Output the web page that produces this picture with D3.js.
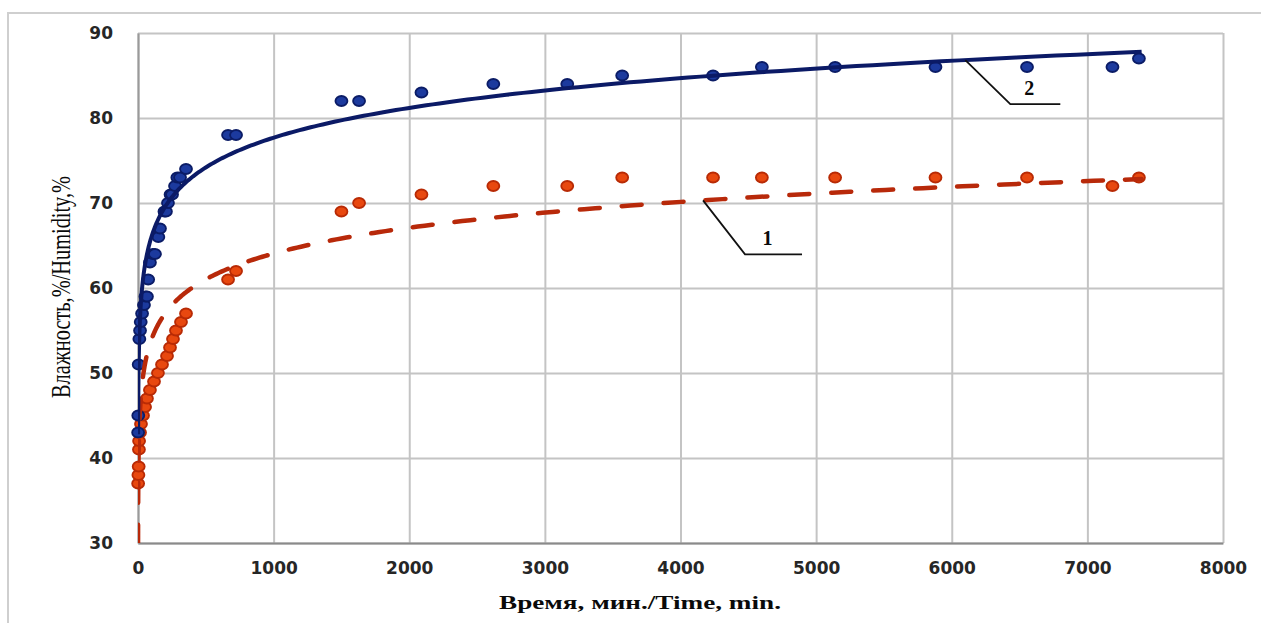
<!DOCTYPE html>
<html>
<head>
<meta charset="utf-8">
<script src="https://cdn.jsdelivr.net/npm/d3@7"></script>
<style>
  html, body { margin: 0; padding: 0; background: #fff; }
  svg { display: block; }
  .tick text { font-family: "DejaVu Sans", sans-serif; font-weight: bold; font-size: 17px; fill: #262626; }
  .title { font-family: "Liberation Serif", "Times New Roman", serif; fill: #0a0a0a; }
</style>
</head>
<body>
<svg id="chart" width="1261" height="623"></svg>
<script>
// series 1 (dashed, red): time, min / humidity, %
const time1 = [1, 3, 5, 7, 8, 15, 22, 37, 52, 66, 88, 118, 147, 177, 214, 236, 258, 280, 317, 354,
  664, 723, 1500, 1630, 2090, 2620, 3165, 3570, 4240, 4600, 5140, 5880, 6555, 7185, 7380];
const hum1 = [37, 38, 39, 41, 42, 43, 44, 45, 46, 47, 48, 49, 50, 51, 52, 53, 54, 55, 56, 57,
  61, 62, 69, 70, 71, 72, 72, 73, 73, 73, 73, 73, 73, 72, 73];

// series 2 (solid, blue)
const time2 = [1, 2, 5, 10, 15, 20, 30, 44, 55, 66, 75, 88, 110, 125, 150, 162, 195, 206, 221, 240,
  251, 273, 290, 310, 354, 664, 723, 1500, 1630, 2090, 2620, 3165, 3570, 4240, 4600, 5140, 5880,
  6555, 7185, 7380];
const hum2 = [43, 45, 51, 54, 55, 56, 57, 58, 59, 59, 61, 63, 64, 64, 66, 67, 69, 69, 70, 71,
  71, 72, 73, 73, 74, 78, 78, 82, 82, 83, 84, 84, 85, 85, 86, 86, 86, 86, 86, 87];

// log trendlines y = a*ln(t) + b: [a, b], [tStart, tEnd]
const trend1 = [4.38, 33.8];
const trendSpan1 = [0.4, 7400];
const trend2 = [5.05, 42.8];
const trendSpan2 = [1, 7400];

const xTicks = [0, 1000, 2000, 3000, 4000, 5000, 6000, 7000, 8000];
const yTicks = [30, 40, 50, 60, 70, 80, 90];

const svg = d3.select('#chart');
const [pl, pr, pt, pb] = [138, 1223, 33, 543];

const x = d3.scaleLinear().domain([0, 8000]).range([pl, pr]);
const y = d3.scaleLinear().domain([30, 90]).range([pb, pt]);

// outer frame
svg.append('rect')
    .attr('x', 8).attr('y', 13)
    .attr('width', 1270).attr('height', 640)
    .attr('fill', 'none')
    .attr('stroke', '#cfcfcf')
    .attr('stroke-width', 2);

// grid
svg.append('g')
    .attr('transform', `translate(0,${pb})`)
    .call(d3.axisBottom(x).tickValues(xTicks).tickSize(-(pb - pt)).tickFormat(''))
    .call(g => g.select('.domain').remove())
    .call(g => g.selectAll('line').attr('stroke', '#c4c4c4').attr('stroke-width', 2));

svg.append('g')
    .attr('transform', `translate(${pl},0)`)
    .call(d3.axisLeft(y).tickValues(yTicks).tickSize(-(pr - pl)).tickFormat(''))
    .call(g => g.select('.domain').remove())
    .call(g => g.selectAll('line').attr('stroke', '#c4c4c4').attr('stroke-width', 2));

// axes
svg.append('g')
    .attr('transform', `translate(0,${pb})`)
    .call(d3.axisBottom(x).tickValues(xTicks).tickSize(0).tickPadding(19).tickFormat(d3.format('d')))
    .call(g => g.select('.domain').attr('stroke', '#8a8a8a').attr('stroke-width', 2));

svg.append('g')
    .attr('transform', `translate(${pl},0)`)
    .call(d3.axisLeft(y).tickValues(yTicks).tickSize(0).tickPadding(25))
    .call(g => g.select('.domain').attr('stroke', '#9a9a9a').attr('stroke-width', 2));

// titles
svg.append('text')
    .attr('class', 'title')
    .attr('transform', 'translate(70,287) rotate(-90)')
    .attr('text-anchor', 'middle')
    .attr('font-size', 27)
    .attr('textLength', 222)
    .attr('lengthAdjust', 'spacingAndGlyphs')
    .text('Влажность,%/Humidity,%');

svg.append('text')
    .attr('class', 'title')
    .attr('x', 640).attr('y', 609)
    .attr('text-anchor', 'middle')
    .attr('font-size', 19)
    .attr('font-weight', 'bold')
    .attr('textLength', 282)
    .attr('lengthAdjust', 'spacingAndGlyphs')
    .text('Время, мин./Time, min.');

// trend curves
let trendAt = ([a, b], t) => a * Math.log(t) + b;

let trendPoints = (coef, [t0, t1]) =>
  d3.range(0, 401).map(i => {
    const t = Math.exp(Math.log(t0) + (Math.log(t1) - Math.log(t0)) * i / 400);
    return [t, trendAt(coef, t)];
  });

svg.append('clipPath').attr('id', 'plot')
  .append('rect')
    .attr('x', pl).attr('y', pt)
    .attr('width', pr - pl).attr('height', pb - pt);

const line = d3.line().x(d => x(d[0])).y(d => y(d[1]));

const series = [
  { t: time1, h: hum1, fill: '#e8480f', stroke: '#b82a05' },
  { t: time2, h: hum2, fill: '#1c3a9e', stroke: '#0b1c66' },
];

series.forEach(s => {
  svg.append('g')
    .selectAll('ellipse')
    .data(s.t.map((t, i) => [t, s.h[i]]))
    .join('ellipse')
      .attr('cx', d => x(d[0]))
      .attr('cy', d => y(d[1]))
      .attr('rx', 6)
      .attr('ry', 5)
      .attr('fill', s.fill)
      .attr('stroke', s.stroke)
      .attr('stroke-width', 1.8);
});

svg.append('path')
    .attr('clip-path', 'url(#plot)')
    .attr('d', line(trendPoints(trend1, trendSpan1)))
    .attr('fill', 'none')
    .attr('stroke', '#b8290a')
    .attr('stroke-width', 4.5)
    .attr('stroke-linecap', 'round')
    .attr('stroke-dasharray', '20 22');

svg.append('path')
    .attr('clip-path', 'url(#plot)')
    .attr('d', line(trendPoints(trend2, trendSpan2)))
    .attr('fill', 'none')
    .attr('stroke', '#0b1a66')
    .attr('stroke-width', 4);

// leader labels
let leader = (coef, t, dx, dy, len, label) => {
  const px = x(t), py = y(trendAt(coef, t));
  svg.append('path')
      .attr('d', `M${px},${py} L${px + dx},${py + dy} h${len}`)
      .attr('fill', 'none')
      .attr('stroke', '#111')
      .attr('stroke-width', 1.8);
  svg.append('text')
      .attr('class', 'title')
      .attr('x', px + dx + len / 2 - 6)
      .attr('y', py + dy - 9)
      .attr('text-anchor', 'middle')
      .attr('font-size', 20)
      .attr('font-weight', 'bold')
      .text(label);
};

leader(trend1, 4166, 42, 54, 57, '1');
leader(trend2, 6100, 45, 44, 50, '2');
</script>
</body>
</html>
